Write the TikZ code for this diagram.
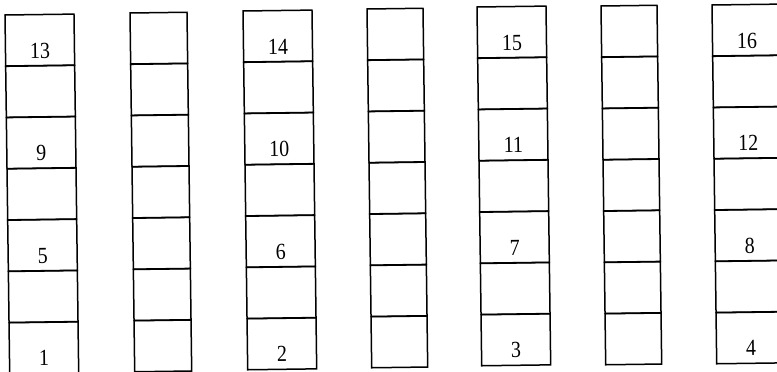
\documentclass[tikz,border=0pt]{standalone}
\usepackage{fontspec}
\setmainfont{Liberation Serif}
\begin{document}
\begin{tikzpicture}[x=1pt,y=-1pt,
  cell/.style={draw, line width=1.5pt, minimum width=#1, minimum height=51pt,
    anchor=north west, inner sep=0pt, outer sep=0pt},
  num/.style={font=\fontsize{20}{24}\selectfont, inner sep=0pt, yscale=1.15}]
\useasboundingbox (0,0) rectangle (777,372);
\clip (0,0) rectangle (777,372);
\fill[white] (0,0) rectangle (777,372);
\foreach \c/\x/\y/\w in {1/5/15/69, 2/130/13/57, 3/243/11/69, 4/367/9/56,
                        5/477/7/69, 6/601/6/56, 7/712/5/69} {
  \begin{scope}[shift={(\x,\y)}, rotate=0.75, transform shape]
    \foreach \r in {0,...,6}
      \node[cell=\w pt] (b\c-\r) at (0,51.3*\r) {};
  \end{scope}
}
\foreach \c/\x/\y/\k in {1/5/15/1, 3/243/11/2, 5/477/7/3, 7/712/5/4} {
  \begin{scope}[shift={(\x,\y)}, rotate=0.75, transform shape]
    \foreach \r/\d in {0/12, 2/8, 4/4, 6/0} {
      \pgfmathtruncatemacro\n{\d+\k}
      \node[num] (n\n) at (34.5, 51.3*\r+36) {\n};
    }
  \end{scope}
}
\end{tikzpicture}
\end{document}
